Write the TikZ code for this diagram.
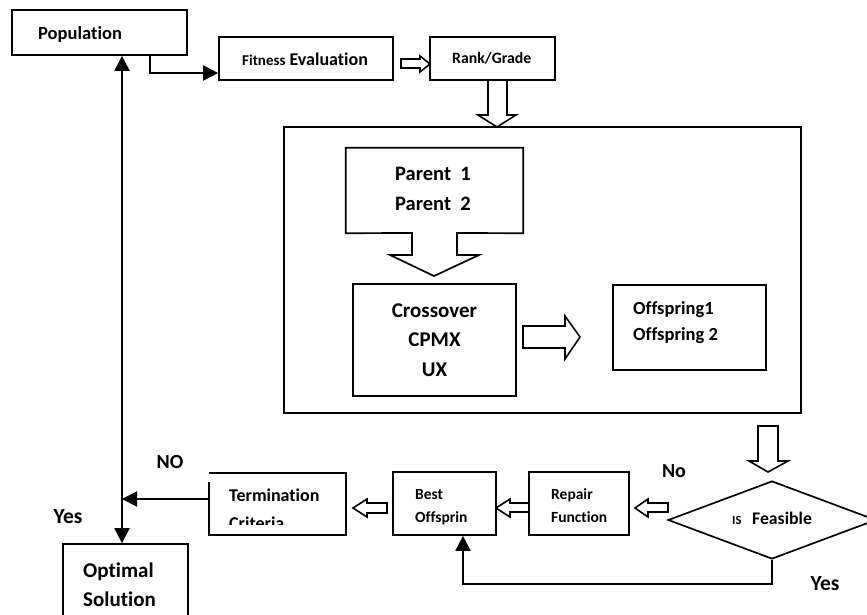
\documentclass[tikz,border=0pt]{standalone}
\usepackage{fontspec}
\setmainfont{Carlito}[Ligatures={NoCommon}]
\usetikzlibrary{shapes.geometric,arrows.meta}
\tikzset{
  box/.style={draw, line width=1.7pt, inner sep=0pt},
  txt/.style={inner sep=0pt, anchor=base west, font=\bfseries},
  ctxt/.style={inner sep=0pt, anchor=base, font=\bfseries},
  arr/.style={line width=1.9pt, -{Triangle[length=15pt,width=15pt]}},
  harr/.style={draw, line width=1.6pt, fill=white, line join=miter},
}
\newcommand{\fs}[1]{\fontsize{#1}{#1}\selectfont}
\begin{document}
\begin{tikzpicture}[x=1pt,y=-1pt]
\useasboundingbox[fill=white] (0,0) rectangle (867,614);

% boxes
\node[box, minimum width=175pt, minimum height=45pt] (pop) at (99.5,32.5) {};
\node[box, minimum width=174pt, minimum height=43pt] (fit) at (306,58.5) {};
\node[box, minimum width=125pt, minimum height=43pt] (rank) at (492.5,58.5) {};
\node[box, minimum width=517pt, minimum height=286pt] (big) at (542.5,270) {};
\node[box, minimum width=163pt, minimum height=112pt] (cross) at (434.5,340) {};
\node[box, minimum width=153pt, minimum height=85pt] (off) at (689.5,327.5) {};
\node[box, minimum width=100pt, minimum height=63pt] (rep) at (579,503.5) {};
\node[box, minimum width=103pt, minimum height=63pt] (best) at (444.5,503.5) {};
\node[inner sep=0pt, minimum width=137pt, minimum height=62pt] (term) at (277.5,504) {};
\draw[line width=1.7pt] ([yshift=-9pt]term.north west) -- (term.south west) -- (term.south east) -- (term.north east) -- (term.north west);
\node[box, minimum width=125pt, minimum height=100pt] (opt) at (125.5,594) {};
\node[diamond, draw, line width=1.7pt, inner sep=0pt, aspect=2.67, minimum width=208pt, minimum height=78pt] (dia) at (772,520) {};

% parent box with attached block arrow
\node[inner sep=0pt, minimum width=177pt, minimum height=85pt] (par) at (434.5,190.5) {};
\draw[line width=1.7pt, line join=miter] (par.north west) -- (par.north east) -- (par.south east)
  -- (457,233) -- (457,255) -- (479,255) -- (434,276) -- (390,255) -- (412,255) -- (412,233) -- (par.south west) -- cycle;

% hollow block arrows
\draw[harr] (401,59) -- (420,59) -- (420,56) -- (430,64) -- (420,72) -- (420,68) -- (401,68) -- cycle;
\draw[harr] (488,80) -- (507,80) -- (507,115) -- (516,115) -- (497,127) -- (478,115) -- (488,115) -- cycle;
\draw[harr] (523,326) -- (565,326) -- (565,316) -- (580,337) -- (565,359) -- (565,348) -- (523,348) -- cycle;
\draw[harr] (758,426) -- (778,426) -- (778,461) -- (788,461) -- (768,472) -- (749,461) -- (758,461) -- cycle;
\draw[harr] (668,503) -- (648,503) -- (648,499) -- (635,508) -- (648,517) -- (648,512) -- (668,512) -- cycle;
\draw[harr] (529,503) -- (510,503) -- (510,499) -- (496,508) -- (510,517) -- (510,512) -- (529,512) -- cycle;
\draw[harr] (387,503) -- (367,503) -- (367,499) -- (353,508) -- (367,517) -- (367,513) -- (387,513) -- cycle;

% connectors
\draw[arr] ([xshift=50.5pt]pop.south) |- ([yshift=-14.5pt]fit.west);
\draw[line width=1.9pt, {Triangle[length=15pt,width=15pt]}-{Triangle[length=15pt,width=15pt]}]
  ([xshift=22.5pt]pop.south) -- ([xshift=22.5pt]pop.south |- opt.north);
\coordinate (j) at (122,499);
\draw[arr] ([yshift=5pt]term.west) -- (j);
\draw[arr] (dia.south) -- ++(0,24) -| ([xshift=18.5pt]best.south);

% texts
\node[txt, font=\bfseries\fs{18.5}] (tpop) at (38,39) {Population};
\node[txt, font=\bfseries\fs{18}] (tfit) at (242,65) {{\fs{15}Fitness} Evaluation};
\node[txt, font=\bfseries\fs{15.8}] (trank) at (452,63) {Rank/Grade};
\node[txt, font=\bfseries\fs{20.5}] (tp1) at (395,180) {Parent\ \ 1};
\node[txt, font=\bfseries\fs{20.5}] (tp2) at (395,210) {Parent\ \ 2};
\node[ctxt, font=\bfseries\fs{21}] (tc1) at (434.5,317) {Crossover};
\node[ctxt, font=\bfseries\fs{21}] (tc2) at (434.5,346) {CPMX};
\node[ctxt, font=\bfseries\fs{21}] (tc3) at (434.5,376) {UX};
\node[txt, font=\bfseries\fs{18.5}] (to1) at (633,314) {Offspring1};
\node[txt, font=\bfseries\fs{18.5}] (to2) at (633,340) {Offspring 2};
\node[txt, font=\bfseries\fs{15.5}] (tr1) at (551,499) {Repair};
\node[txt, font=\bfseries\fs{15.5}] (tr2) at (551,522) {Function};
\node[txt, font=\bfseries\fs{15.5}] (tb1) at (415,499) {Best};
\node[txt, font=\bfseries\fs{15.5}] (tb2) at (415,522) {Offsprin};
\node[txt, font=\bfseries\fs{18}] (tt1) at (229,501) {Termination};
\begin{scope}
\clip (term.north west) rectangle ([yshift=11pt]term.south east);
\node[txt, font=\bfseries\fs{18}] (tt2) at (229,529) {Criteria};
\end{scope}
\node[txt, font=\bfseries\fs{21}] (tos1) at (83,577) {Optimal};
\node[txt, font=\bfseries\fs{21}] (tos2) at (83,606) {Solution};
\node[txt, font=\bfseries\fs{12.5}] (tis) at (732,524) {IS};
\node[txt, font=\bfseries\fs{17.7}] (tfe) at (752,524) {Feasible};
\node[ctxt, font=\bfseries\fs{20}] (lno1) at (170,468) {NO};
\node[ctxt, font=\bfseries\fs{21.5}] (lyes1) at (68,523) {Yes};
\node[ctxt, font=\bfseries\fs{20}] (lno2) at (674,477) {No};
\node[ctxt, font=\bfseries\fs{21.5}] (lyes2) at (825,590) {Yes};
\end{tikzpicture}
\end{document}
